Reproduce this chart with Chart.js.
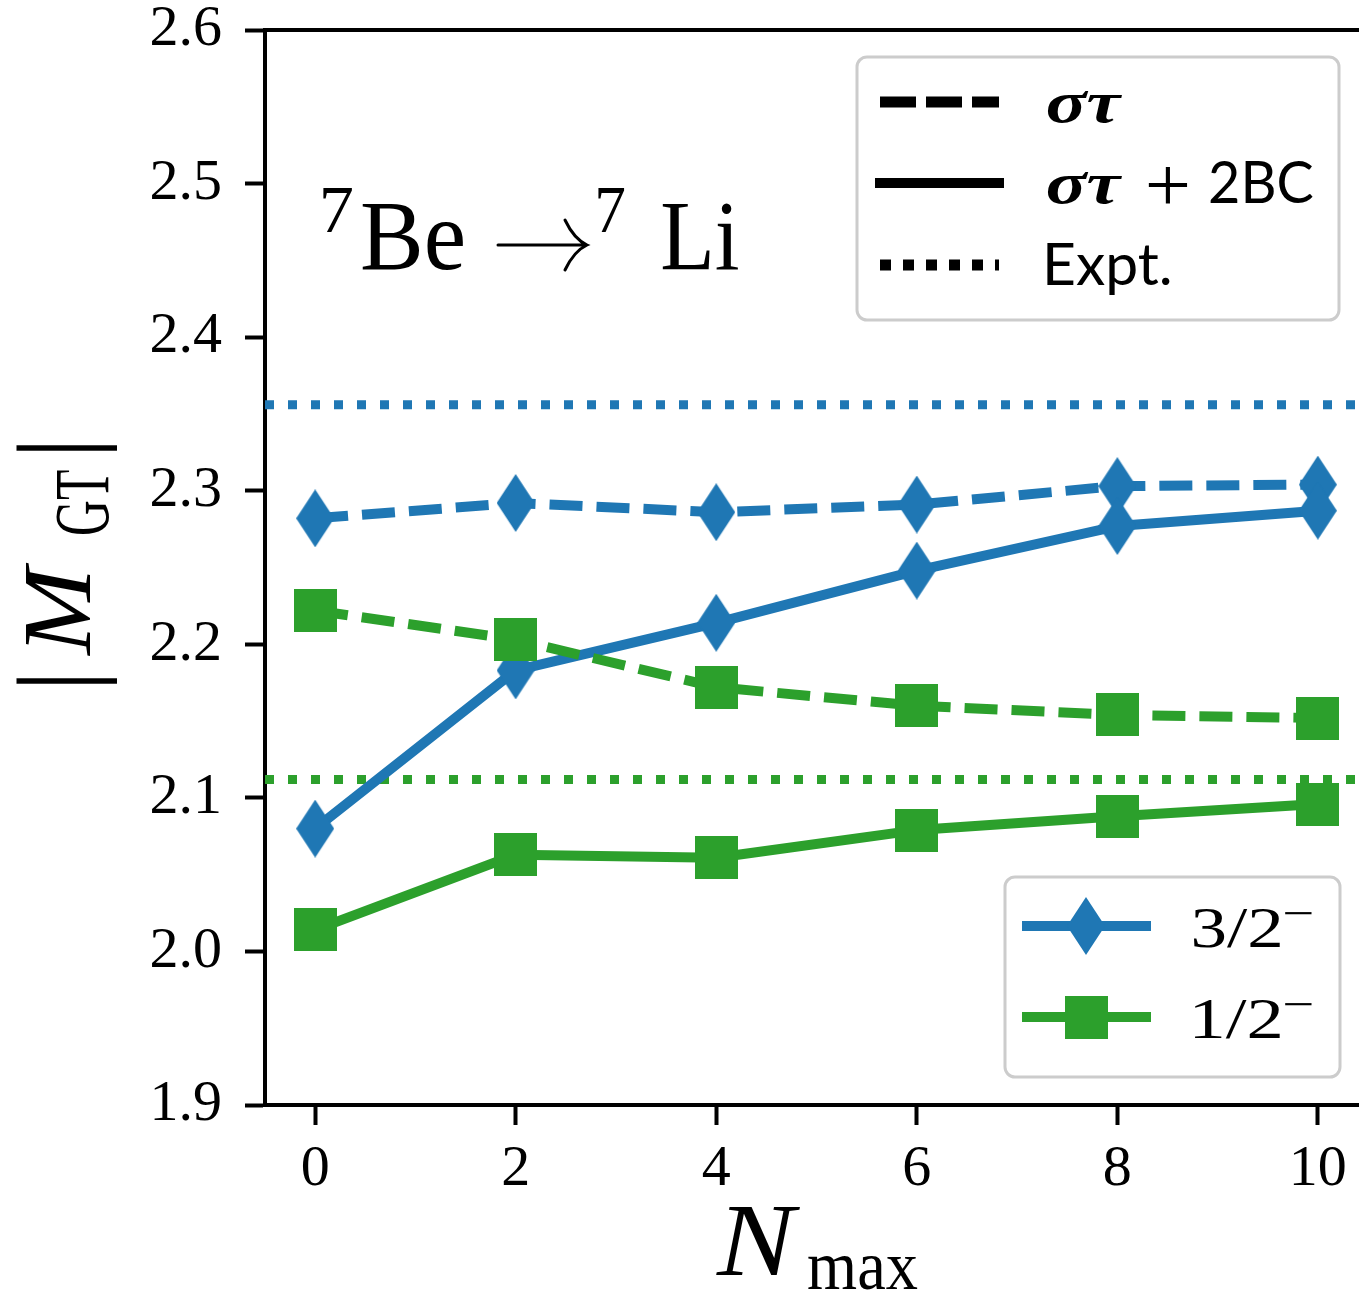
<!DOCTYPE html>
<html>
<head>
<meta charset="utf-8">
<script src="https://cdn.jsdelivr.net/npm/chart.js@4.4.1/dist/chart.umd.min.js"></script>
<style>
  html, body { margin: 0; padding: 0; background: #fff; }
  #wrap { position: relative; width: 1359px; height: 1295px; overflow: hidden; }
  canvas { display: block; }
</style>
</head>
<body>
<div id="wrap"><canvas id="c" width="1400" height="1295" style="width:1400px;height:1295px"></canvas></div>
<script>
// N_max values and tick labels
const nmax = [0, 2, 4, 6, 8, 10];
const yTicks = [1.9, 2.0, 2.1, 2.2, 2.3, 2.4, 2.5, 2.6];

// |M_GT| for the 3/2- and 1/2- final states
const m32_st    = [2.282, 2.292, 2.286, 2.291, 2.303, 2.304];
const m32_st2bc = [2.080, 2.183, 2.214, 2.248, 2.277, 2.287];
const m12_st    = [2.222, 2.203, 2.172, 2.160, 2.154, 2.152];
const m12_st2bc = [2.014, 2.063, 2.061, 2.079, 2.088, 2.096];

// experimental values
const expt32 = 2.356;
const expt12 = 2.112;

const BLUE = '#1f77b4';
const GREEN = '#2ca02c';
const SERIF = '"Liberation Serif", "DejaVu Serif", serif';
const SANS = 'Lato, "Open Sans", sans-serif';
const LW = 10;
const DASH = [33, 14];
const DOT = [9, 14];

function diamondMarker(w, h, color) {
  const c = document.createElement('canvas');
  c.width = w; c.height = h;
  const g = c.getContext('2d');
  g.fillStyle = color;
  g.beginPath();
  g.moveTo(w / 2, 0); g.lineTo(w, h / 2); g.lineTo(w / 2, h); g.lineTo(0, h / 2);
  g.closePath(); g.fill();
  return c;
}
function squareMarker(s, color) {
  const c = document.createElement('canvas');
  c.width = s; c.height = s;
  const g = c.getContext('2d');
  g.fillStyle = color;
  g.fillRect(0, 0, s, s);
  return c;
}
const diamond = diamondMarker(38, 58, BLUE);
const square = squareMarker(43, GREEN);

function series(values) {
  return nmax.map((n, i) => ({ x: n, y: values[i] }));
}
function lineSet(values, color, marker, dashed, order) {
  return {
    data: series(values),
    borderColor: color,
    backgroundColor: color,
    borderWidth: LW,
    borderDash: dashed ? DASH : [],
    borderCapStyle: 'butt',
    borderJoinStyle: 'round',
    pointStyle: marker,
    pointRadius: 20,
    pointHoverRadius: 20,
    tension: 0,
    fill: false,
    order: order
  };
}

// draw text so that its ink starts at `left` and (optionally) spans `width`
function fitText(ctx, text, left, baseline, font, width) {
  ctx.font = font;
  ctx.textAlign = 'left';
  ctx.textBaseline = 'alphabetic';
  const m = ctx.measureText(text);
  const ink = m.actualBoundingBoxLeft + m.actualBoundingBoxRight;
  const s = width ? width / ink : 1;
  ctx.save();
  ctx.translate(left, baseline);
  ctx.scale(s, 1);
  ctx.fillText(text, m.actualBoundingBoxLeft, 0);
  ctx.restore();
}
// same, but the ink is centred vertically on `cy`
function fitTextMid(ctx, text, left, cy, font, width) {
  ctx.font = font;
  const m = ctx.measureText(text);
  const baseline = cy + (m.actualBoundingBoxAscent - m.actualBoundingBoxDescent) / 2;
  fitText(ctx, text, left, baseline, font, width);
}

function hline(ctx, x0, x1, y, color, lw, dash, cap) {
  ctx.save();
  ctx.strokeStyle = color;
  ctx.lineWidth = lw;
  ctx.setLineDash(dash || []);
  ctx.lineCap = cap || 'butt';
  ctx.beginPath();
  ctx.moveTo(x0, y); ctx.lineTo(x1, y);
  ctx.stroke();
  ctx.restore();
}

function legendBox(ctx, x, y, w, h) {
  ctx.save();
  ctx.beginPath();
  ctx.roundRect(x, y, w, h, 10);
  ctx.fillStyle = 'rgba(255,255,255,0.8)';
  ctx.fill();
  ctx.lineWidth = 3;
  ctx.strokeStyle = 'rgba(204,204,204,1)';
  ctx.stroke();
  ctx.restore();
}

const decor = {
  id: 'decor',
  beforeDatasetsDraw(chart) {
    const ctx = chart.ctx;
    const a = chart.chartArea;
    const ys = chart.scales.y;
    hline(ctx, a.left, a.right, ys.getPixelForValue(expt32), BLUE, 9, DOT);
    hline(ctx, a.left, a.right, ys.getPixelForValue(expt12), GREEN, 9, DOT);
  },
  afterDraw(chart) {
    const ctx = chart.ctx;
    const a = chart.chartArea;
    ctx.save();
    // top and right spines
    ctx.strokeStyle = '#000';
    ctx.lineWidth = 4;
    ctx.beginPath();
    ctx.moveTo(a.left - 2, a.top); ctx.lineTo(a.right, a.top); ctx.lineTo(a.right, a.bottom);
    ctx.stroke();

    ctx.fillStyle = '#000';

    // reaction label
    fitText(ctx, '7', 323, 232, `68px ${SERIF}`, 30);
    fitText(ctx, 'Be', 362, 269, `100px ${SERIF}`, 101);
    ctx.lineWidth = 3;
    ctx.lineCap = 'round';
    ctx.beginPath();
    ctx.moveTo(498, 245); ctx.lineTo(585, 245);
    ctx.moveTo(565, 220); ctx.quadraticCurveTo(574, 239, 587, 245);
    ctx.quadraticCurveTo(574, 251, 565, 270);
    ctx.stroke();
    fitText(ctx, '7', 598, 232, `68px ${SERIF}`, 27);
    fitText(ctx, 'Li', 662, 269, `100px ${SERIF}`, 76);

    // y axis title |M_GT|
    ctx.save();
    ctx.translate(90, 682);
    ctx.rotate(-Math.PI / 2);
    fitTextMid(ctx, '|', -2, -24, `110px ${SERIF}`);
    fitText(ctx, 'M', 25, 0, `italic 98px ${SERIF}`, 95);
    fitText(ctx, 'GT', 148, 18, `78px ${SERIF}`, 64);
    fitTextMid(ctx, '|', 231, -24, `110px ${SERIF}`);
    ctx.restore();

    // x axis title N_max
    fitText(ctx, 'N', 716, 1275, `italic 104px ${SERIF}`, 85);
    fitText(ctx, 'max', 808, 1289, `70px ${SERIF}`, 110);

    // legend: line styles
    legendBox(ctx, 857, 57, 482, 263);
    hline(ctx, 880, 999, 102, '#000', 11, [36, 10]);
    hline(ctx, 880, 999, 183, '#000', 10, [], 'square');
    hline(ctx, 880, 999, 265, '#000', 11, [11, 12]);
    fitText(ctx, '\u03C3\u03C4', 1047, 122, `bold italic 60px ${SERIF}`, 76);
    fitText(ctx, '\u03C3\u03C4', 1047, 203, `bold italic 60px ${SERIF}`, 76);
    fitTextMid(ctx, '+', 1148, 185, `78px ${SERIF}`, 40);
    fitText(ctx, '2BC', 1210, 203, `58px ${SANS}`, 103);
    fitText(ctx, 'Expt.', 1047, 285, `58px ${SANS}`, 123);

    // legend: final states
    legendBox(ctx, 1005, 877, 335, 200);
    hline(ctx, 1022, 1151, 926, BLUE, LW);
    ctx.drawImage(diamond, 1086 - diamond.width / 2, 926 - diamond.height / 2);
    hline(ctx, 1022, 1151, 1017, GREEN, LW);
    ctx.drawImage(square, 1086 - square.width / 2, 1017 - square.height / 2);
    fitText(ctx, '3/2', 1193, 947, `58px ${SERIF}`, 87);
    fitTextMid(ctx, '\u2212', 1285, 913, `44px ${SERIF}`, 27);
    fitText(ctx, '1/2', 1195, 1038, `58px ${SERIF}`, 85);
    fitTextMid(ctx, '\u2212', 1285, 1004, `44px ${SERIF}`, 27);
    ctx.restore();
  }
};

const chart = new Chart(document.getElementById('c'), {
  type: 'line',
  data: {
    datasets: [
      lineSet(m12_st2bc, GREEN, square, false, 0),
      lineSet(m12_st, GREEN, square, true, 1),
      lineSet(m32_st2bc, BLUE, diamond, false, 2),
      lineSet(m32_st, BLUE, diamond, true, 3)
    ]
  },
  options: {
    responsive: false,
    animation: false,
    devicePixelRatio: 1,
    layout: { padding: { left: 0, top: 28, right: 32, bottom: 0 } },
    plugins: { legend: { display: false }, tooltip: { enabled: false }, title: { display: false } },
    scales: {
      x: {
        type: 'linear',
        min: -0.5,
        max: 10.5,
        afterBuildTicks: s => { s.ticks = nmax.map(v => ({ value: v })); },
        afterFit: s => { s.height = 190; s.paddingLeft = 0; s.paddingRight = 0; },
        grid: { display: true, drawOnChartArea: false, drawTicks: true, tickLength: 20, tickWidth: 4, tickColor: '#000' },
        border: { display: true, color: '#000', width: 4 },
        ticks: {
          font: { family: SERIF, size: 58 },
          color: '#000',
          padding: 10,
          maxRotation: 0,
          autoSkip: false,
          callback: v => String(v)
        }
      },
      y: {
        type: 'linear',
        min: 1.9,
        max: 2.6,
        afterBuildTicks: s => { s.ticks = yTicks.map(v => ({ value: v })); },
        afterFit: s => { s.width = 265; s.paddingTop = 0; s.paddingBottom = 0; },
        grid: { display: true, drawOnChartArea: false, drawTicks: true, tickLength: 20, tickWidth: 4, tickColor: '#000' },
        border: { display: true, color: '#000', width: 4 },
        ticks: {
          font: { family: SERIF, size: 58 },
          color: '#000',
          padding: 23,
          autoSkip: false,
          callback: v => v.toFixed(1)
        }
      }
    }
  },
  plugins: [decor]
});
</script>
</body>
</html>
